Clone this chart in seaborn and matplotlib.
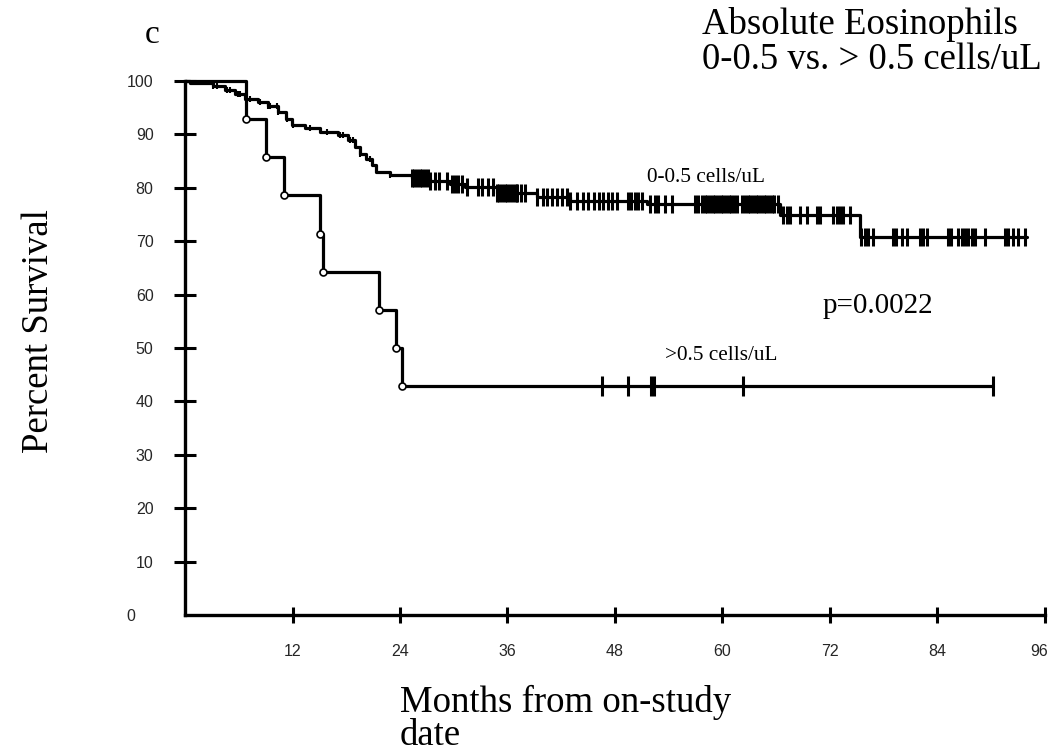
import numpy as np
import seaborn as sns
import matplotlib.pyplot as plt
from matplotlib.transforms import ScaledTranslation

# survival curve for 0-0.5 cells/uL (step function)
low_eos_t = [0, 0.6, 3.1, 4.5, 5.6, 6.7, 8.1, 9.3, 10.4, 11.3, 11.9, 13.4, 15.1, 17.1, 18.2,
             19.0, 19.5, 20.2, 20.9, 21.3, 22.9, 25.3, 27.3, 29.6, 31.3, 34.8, 39.3, 43.0,
             51.6, 66.4, 75.3, 94.0]
low_eos_s = [100, 99.6, 99.0, 98.3, 97.6, 96.6, 96.0, 95.3, 94.2, 92.8, 91.8, 91.2, 90.5, 89.9,
             89.0, 87.7, 86.3, 85.4, 84.3, 82.9, 82.4, 81.8, 81.2, 80.8, 80.2, 79.0, 78.3, 77.5,
             77.0, 74.9, 70.8, 70.8]
# small censor marks in the first two years
low_eos_small_cens = [3.1, 3.6, 4.7, 5.0, 5.9, 6.1, 7.3, 8.4, 9.3, 9.5, 10.3, 10.4, 11.4, 12.1,
                      14.0, 15.8, 17.3, 17.6, 18.4, 18.8, 19.5, 20.6, 22.9]
# censored patients (tick marks)
low_eos_cens = [25.3, 25.6, 25.9, 26.2, 26.5, 26.8, 27.1, 27.4, 27.9, 28.4, 29.2, 29.8, 30.1,
                30.5, 30.9, 31.5, 32.7, 33.1, 33.8, 34.4, 34.8, 35.1, 35.4, 35.7, 36.0, 36.3,
                36.6, 36.9, 37.1, 37.5, 37.9, 39.3, 40.0, 40.4, 41.0, 41.5, 42.1, 42.6, 43.0,
                43.8, 44.4, 45.0, 45.6, 46.2, 46.7, 47.2, 47.7, 48.2, 49.4, 49.8, 50.2, 50.6,
                51.0, 51.9, 52.5, 52.8, 53.6, 54.4, 56.9, 57.3, 57.7,
                58.0, 58.3, 58.6, 58.9, 59.2, 59.5, 59.8, 60.1, 60.4, 60.7, 61.0, 61.3, 61.6,
                62.2, 62.5, 62.8, 63.1, 63.4, 63.7, 64.0, 64.3, 64.6, 64.9, 65.2, 65.5, 65.8,
                66.2, 66.7, 67.2, 67.5, 68.6, 69.4, 70.5, 70.9, 72.3, 72.8, 73.1, 73.4, 74.2,
                75.5, 75.9, 76.2, 76.8, 79.0, 79.4, 80.0, 80.6, 82.1, 82.4, 82.8, 85.2, 85.5,
                86.3, 86.7, 87.1, 87.4, 87.8, 88.2, 89.3, 91.5, 91.9, 92.4, 93.0, 93.8]

# survival curve for >0.5 cells/uL
high_eos_t = [0, 6.8, 9.0, 11.0, 15.1, 15.4, 21.6, 23.6, 24.2, 90.2]
high_eos_s = [100, 92.9, 85.7, 78.6, 71.4, 64.3, 57.1, 50.0, 42.9, 42.9]
high_eos_events = slice(1, 9)
high_eos_cens = [46.5, 49.5, 52.0, 52.3, 62.3, 90.2]

x_ticks = [12, 24, 36, 48, 60, 72, 84, 96]
y_ticks = [0, 10, 20, 30, 40, 50, 60, 70, 80, 90, 100]


def surv_at(times, surv, t):
    idx = np.searchsorted(times, t, side='right') - 1
    return np.array(surv)[idx]


sns.set_style('white')
serif = 'Liberation Serif'
sans = 'Liberation Sans'

fig = plt.figure(figsize=(10.5, 7.54), dpi=100)
ax = fig.add_axes([185 / 1050, 139 / 754, 860 / 1050, 534 / 754])

# curves
sns.lineplot(x=high_eos_t, y=high_eos_s, drawstyle='steps-post', estimator=None, sort=False,
             color='black', linewidth=2.3, ax=ax)
sns.lineplot(x=low_eos_t, y=low_eos_s, drawstyle='steps-post', estimator=None, sort=False,
             color='black', linewidth=2.3, ax=ax)

# event circles on the >0.5 curve
ax.plot(high_eos_t[high_eos_events], high_eos_s[high_eos_events], linestyle='none', marker='o',
        markersize=5, markerfacecolor='white', markeredgecolor='black', markeredgewidth=1.2)

# censor marks
sns.scatterplot(x=low_eos_cens, y=surv_at(low_eos_t, low_eos_s, low_eos_cens), marker='|',
                s=150, linewidth=2.2, color='black', ax=ax)
sns.scatterplot(x=low_eos_small_cens, y=surv_at(low_eos_t, low_eos_s, low_eos_small_cens),
                marker='|', s=16, linewidth=1.5, color='black', ax=ax)
sns.scatterplot(x=high_eos_cens, y=surv_at(high_eos_t, high_eos_s, high_eos_cens), marker='|',
                s=190, linewidth=2.2, color='black', ax=ax)

for art in ax.lines + ax.collections:
    art.set_clip_on(False)

ax.set_xlim(0, 96)
ax.set_ylim(0, 100)
sns.despine(ax=ax)
for side in ['left', 'bottom']:
    ax.spines[side].set_linewidth(2.4)
    ax.spines[side].set_color('black')

ax.set_xticks(x_ticks)
ax.set_yticks(y_ticks)
ax.set_xticklabels([str(v) for v in x_ticks], fontfamily=sans, fontsize=11.5)
ax.set_yticklabels([str(v) for v in y_ticks], fontfamily=sans, fontsize=11.5)
ax.tick_params(axis='x', direction='inout', length=11.5, width=2.2, pad=15, color='black',
               bottom=True)
ax.tick_params(axis='y', direction='inout', length=16.5, width=2.2, pad=14.4, color='black',
               left=True)
ax.yaxis.get_major_ticks()[0].tick1line.set_visible(False)
zero_lab = ax.get_yticklabels()[0]
zero_lab.set_transform(zero_lab.get_transform() + ScaledTranslation(-0.18, 0, fig.dpi_scale_trans))
last_lab = ax.get_xticklabels()[-1]
last_lab.set_transform(last_lab.get_transform() + ScaledTranslation(-0.06, 0, fig.dpi_scale_trans))


def ftext(px, py, s, **kw):
    fig.text(px / 1050, 1 - py / 754, s, fontfamily=serif, color='black', **kw)


ftext(145, 43, 'c', fontsize=24, va='baseline')
ftext(702, 34, 'Absolute Eosinophils', fontsize=26.5, va='baseline')
ftext(702, 69, '0-0.5 vs. > 0.5 cells/uL', fontsize=26.5, va='baseline')
ftext(647, 182, '0-0.5 cells/uL', fontsize=15.3, va='baseline')
ftext(665, 360, '>0.5 cells/uL', fontsize=15.3, va='baseline')
ftext(823, 313, 'p=0.0022', fontsize=21, va='baseline')
ftext(39, 331, 'Percent Survival', fontsize=26.5, rotation=90, ha='center', va='center')
ftext(400, 753, 'Months from on-study\ndate', fontsize=26.5, va='bottom', ha='left',
      linespacing=0.95)

fig.savefig('out.png', dpi=100)
